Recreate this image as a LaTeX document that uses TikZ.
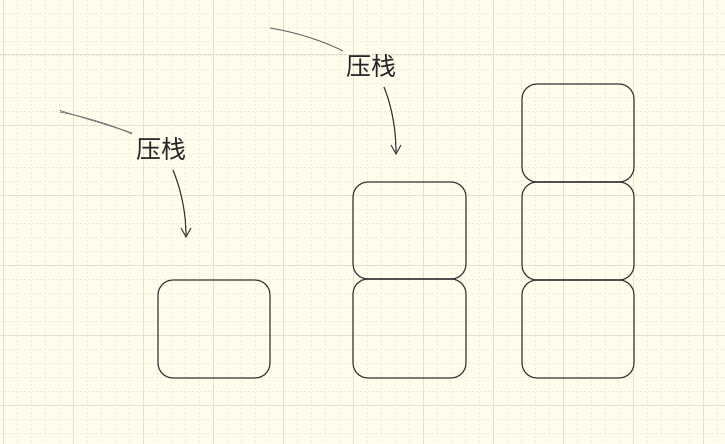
\documentclass[tikz,border=0pt]{standalone}
\usepackage{fontspec}
\newfontfamily\cjk{Noto Sans CJK SC}
\usetikzlibrary{arrows.meta}
\definecolor{bg}{HTML}{FFFDEC}
\definecolor{gmaj}{HTML}{E4E1D3}
\definecolor{gmin}{HTML}{EDEADB}
\definecolor{ink}{HTML}{3A3A3A}
\tikzset{
  stackbox/.style={draw=ink, line width=1.2pt, rounded corners=15pt},
  lbl/.style={font=\cjk\fontsize{25}{28}\selectfont, text=black!85, inner sep=0pt},
  curarrow/.style={draw=ink, line width=1.2pt, -{Straight Barb[length=9pt,width=10pt,line width=1pt]}},
  stroke/.style={draw=ink!70, line width=0.8pt},
}
\begin{document}
\begin{tikzpicture}[x=1pt,y=-1pt]
\fill[bg] (0,0) rectangle (725,444);
\useasboundingbox (0,0) rectangle (725,444);
% minor grid
\foreach \x in {3,17,...,725} \draw[gmin, line width=0.6pt, dash pattern=on 2pt off 2pt] (\x,0) -- (\x,444);
\foreach \y in {-1,13,...,444} \draw[gmin, line width=0.6pt, dash pattern=on 2pt off 2pt] (0,\y) -- (725,\y);
% major grid
\foreach \x in {3,73,...,725} \draw[gmaj, line width=1pt] (\x,0) -- (\x,444);
\foreach \y in {55,125,...,444} \draw[gmaj, line width=1pt] (0,\y) -- (725,\y);
% boxes
\draw[stackbox] (158,280) rectangle (270,378);
\draw[stackbox] (353,182) rectangle (466,279);
\draw[stackbox] (353,279) rectangle (466,378);
\draw[stackbox] (522,84) rectangle (634,182);
\draw[stackbox] (522,182) rectangle (634,280);
\draw[stackbox] (522,280) rectangle (634,378);
% labels
\node[lbl] (l1) at (161,149) {压栈};
\node[lbl] (l2) at (371,66) {压栈};
% stray strokes
\coordinate (s1a) at (60,112); \coordinate (s1b) at (132,134);
\draw[stroke] (s1a) .. controls (85,117) and (110,124) .. (s1b);
\draw[stroke] ([yshift=1.5pt]s1a) .. controls (85,118.5) and (110,125.5) .. ([yshift=1pt]s1b);
\coordinate (s2a) at (270,28); \coordinate (s2b) at (343,51);
\draw[stroke, line width=1.1pt] (s2a) .. controls (300,33) and (325,42) .. (s2b);
% arrows
\coordinate (a1s) at (173,170); \coordinate (a1e) at (186,238);
\draw[curarrow] (a1s) .. controls (181,190) and (186,212) .. (a1e);
\coordinate (a2s) at (384,87); \coordinate (a2e) at (396,155);
\draw[curarrow] (a2s) .. controls (392,107) and (396,130) .. (a2e);
\end{tikzpicture}
\end{document}
